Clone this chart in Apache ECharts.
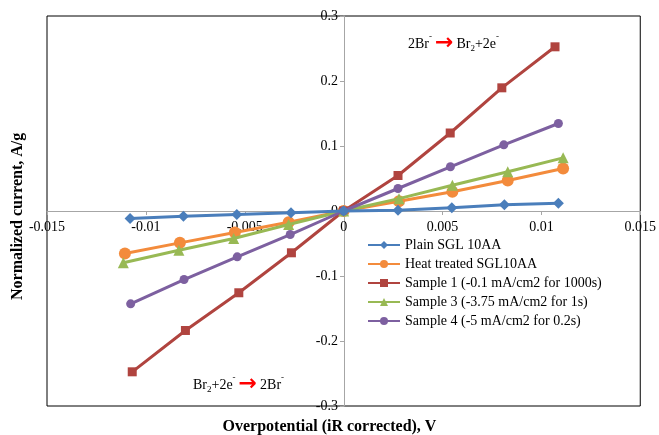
<!DOCTYPE html>
<html>
<head>
<meta charset="utf-8">
<script src="https://cdn.jsdelivr.net/npm/echarts@6/dist/echarts.min.js"></script>
<style>
  html, body { margin: 0; padding: 0; background: #fff; }
  #main { width: 659px; height: 435px; }
</style>
</head>
<body>
<div id="main"></div>
<script>
// series names
var names = ['Plain SGL 10AA', 'Heat treated SGL10AA', 'Sample 1 (-0.1 mA/cm2 for 1000s)',
  'Sample 3 (-3.75 mA/cm2 for 1s)', 'Sample 4 (-5 mA/cm2 for 0.2s)'];

// overpotential (V) and current (A/g)
var xPlain = [-0.0108, -0.0081, -0.0054, -0.00266, 0, 0.00275, 0.00547, 0.00813, 0.01086];
var yPlain = [-0.0115, -0.008, -0.0054, -0.0028, 0, 0.0012, 0.005, 0.0095, 0.012];

var xHeat = [-0.01106, -0.00828, -0.0055, -0.00278, 0, 0.0028, 0.0055, 0.0083, 0.0111];
var yHeat = [-0.0654, -0.049, -0.033, -0.0172, 0, 0.015, 0.0295, 0.047, 0.0654];

var xS1 = [-0.01069, -0.0080, -0.0053, -0.00264, 0, 0.00275, 0.00539, 0.0080, 0.01069];
var yS1 = [-0.2474, -0.1838, -0.1258, -0.0643, 0, 0.0546, 0.120, 0.1895, 0.2526];

var xS3 = [-0.01114, -0.00833, -0.00556, -0.00278, 0, 0.0028, 0.0055, 0.0083, 0.0111];
var yS3 = [-0.0797, -0.0603, -0.0423, -0.0208, 0, 0.019, 0.0397, 0.0603, 0.0818];

var xS4 = [-0.01077, -0.00807, -0.00538, -0.0027, 0, 0.00275, 0.0054, 0.0081, 0.01086];
var yS4 = [-0.1428, -0.1054, -0.0705, -0.0362, 0, 0.0346, 0.068, 0.1018, 0.1346];

var colors = ['#4A7EBB', '#F38B3C', '#B0443F', '#98B954', '#7D60A0'];
var symbols = ['diamond', 'circle', 'rect', 'triangle', 'circle'];
var sizes = [11, 12, 9, 11, 9];

function pairs(xs, ys) {
  return xs.map(function (x, i) { return [x, ys[i]]; });
}

var allData = [pairs(xPlain, yPlain), pairs(xHeat, yHeat), pairs(xS1, yS1), pairs(xS3, yS3), pairs(xS4, yS4)];

var font = '"Liberation Serif", "Times New Roman", serif';

var chart = echarts.init(document.getElementById('main'));

var series = allData.map(function (d, i) {
  return {
    name: names[i],
    type: 'line',
    data: d,
    symbol: symbols[i],
    symbolSize: sizes[i],
    showAllSymbol: true,
    lineStyle: { width: 3, color: colors[i] },
    itemStyle: { color: colors[i] },
    z: i == 0 ? 10 : 2 + i
  };
});

var richTxt = {
  n: { fontFamily: font, fontSize: 14, fill: '#000' },
  sup: { fontFamily: font, fontSize: 9, fill: '#000', verticalAlign: 'top', padding: [0, 0, 8, 0] },
  sub: { fontFamily: font, fontSize: 9, fill: '#000', padding: [8, 0, 0, 0] },
  arr: { fontFamily: '"DejaVu Sans", sans-serif', fontSize: 22, fontWeight: 'bold', fill: '#FF0000', padding: [0, 3, 3, 3] }
};

// axes sit on the zero lines: grid is 47..641 wide, 16..406 tall
chart.setOption({
  animation: false,
  color: colors,
  grid: { left: 47, right: 18, top: 16, bottom: 29, show: true, borderColor: '#000', borderWidth: 1 },
  legend: {
    orient: 'vertical',
    left: 362,
    top: 233,
    itemGap: 5,
    itemWidth: 32,
    itemHeight: 10,
    data: names,
    textStyle: { fontFamily: font, fontSize: 14, color: '#000' }
  },
  xAxis: {
    type: 'value',
    min: -0.015,
    max: 0.015,
    interval: 0.005,
    offset: -195,
    axisLine: { onZero: false, lineStyle: { color: '#A6A6A6', width: 1 } },
    axisTick: { show: true, length: 4, lineStyle: { color: '#A6A6A6' } },
    splitLine: { show: false },
    axisLabel: { fontFamily: font, fontSize: 14, color: '#000', margin: 9 }
  },
  yAxis: {
    type: 'value',
    min: -0.3,
    max: 0.3,
    interval: 0.1,
    offset: -297,
    axisLine: { onZero: false, lineStyle: { color: '#A6A6A6', width: 1 } },
    axisTick: { show: true, length: 4, lineStyle: { color: '#A6A6A6' } },
    splitLine: { show: false },
    axisLabel: { fontFamily: font, fontSize: 14, color: '#000', margin: 6 }
  },
  graphic: [
    {
      type: 'text', left: 'center', x: 0, top: 419,
      style: { text: 'Overpotential (iR corrected), V', font: 'bold 16px ' + font, fill: '#000' }
    },
    {
      type: 'text', x: 10, y: 300, rotation: Math.PI / 2,
      style: { text: 'Normalized current, A/g', font: 'bold 16px ' + font, fill: '#000' }
    },
    {
      type: 'text', x: 408, y: 32,
      style: { text: '{n|2Br}{sup|-}{arr|→}{n|Br}{sub|2}{n|+2e}{sup|-}', rich: richTxt }
    },
    {
      type: 'text', x: 193, y: 373,
      style: { text: '{n|Br}{sub|2}{n|+2e}{sup|-}{arr|→}{n|2Br}{sup|-}', rich: richTxt }
    }
  ],
  series: series
});
</script>
</body>
</html>
